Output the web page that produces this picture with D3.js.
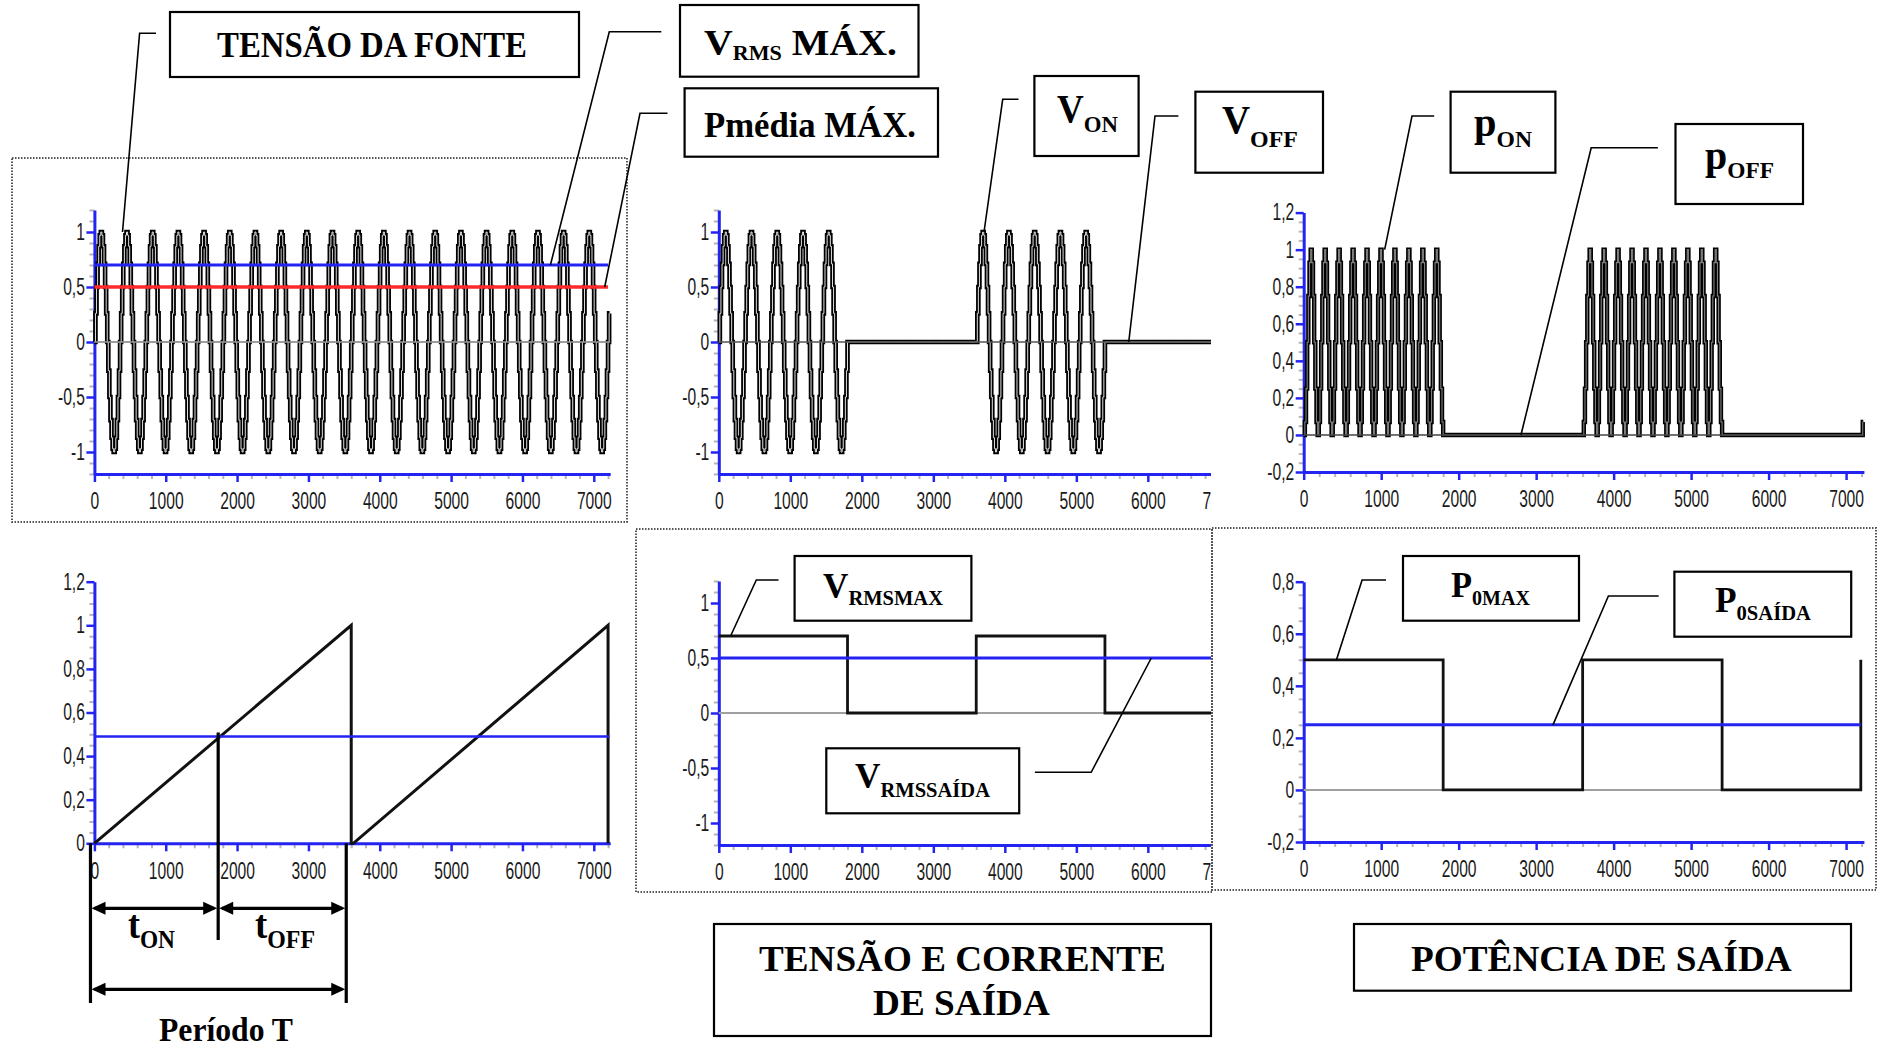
<!DOCTYPE html>
<html>
<head>
<meta charset="utf-8">
<script src="https://cdn.jsdelivr.net/npm/d3@7"></script>
<style>
  body { margin: 0; background: #fff; }
  svg { display: block; }
  .serif { font-family: "Liberation Serif", "Times New Roman", serif; font-weight: bold; white-space: pre; }
  .tick text { font-family: "Liberation Sans", Arial, sans-serif; fill: #1a1a1a; }
</style>
</head>
<body>
<div id="chart"></div>
<script>
// size of the page
const width = 1878;
const height = 1048;

// ---- data ----

// x axis (samples) shared by all six plots
const xTicks = [0, 1000, 2000, 3000, 4000, 5000, 6000, 7000];
const xEnd = 7230;
const sampleStep = 15;   // width of one held sample
const lastSample = 7215;

// one period (360 samples) of the stepped source voltage, 24 held levels
const sourceCycle = [0, 0.26, 0.5, 0.71, 0.87, 0.97, 1, 0.97, 0.87, 0.71, 0.5, 0.26,
                     0, -0.26, -0.5, -0.71, -0.87, -0.97, -1, -0.97, -0.87, -0.71, -0.5, -0.26];
// one period (180 samples) of the stepped instantaneous power
const powerCycle = [0, 0.07, 0.25, 0.5, 0.75, 0.93, 1, 0.93, 0.75, 0.5, 0.25, 0.07];

// switch conduction intervals
const onStart = [0, 3600, 7200];
const onEnd = [1800, 5400, 7230];

// sawtooth (control ramp)
const rampX = [0, 3600, 3600, 3630, 7200, 7200];
const rampY = [0, 1, 0, 0, 1, 0];
const dutyLevel = 0.49;

// rms value of the output (square wave)
const rmsX = [0, 1800, 1800, 3600, 3600, 5400, 5400, 7230];
const rmsY = [0.7, 0.7, 0, 0, 0.7, 0.7, 0, 0];

// mean output power (square wave)
const powX = [0, 1800, 1800, 3600, 3600, 5400, 5400, 7190, 7190];
const powY = [0.5, 0.5, 0, 0, 0.5, 0.5, 0, 0, 0.5];

// horizontal reference levels
const vRmsMax = 0.7;
const pMeanMax = 0.5;
const vRmsOut = 0.5;
const pOut = 0.25;

// y tick labels
const yTicksV = [-1, -0.5, 0, 0.5, 1];
const yTicksP = [-0.2, 0, 0.2, 0.4, 0.6, 0.8, 1, 1.2];
const yTicksRamp = [0, 0.2, 0.4, 0.6, 0.8, 1, 1.2];
const yTicksPo = [-0.2, 0, 0.2, 0.4, 0.6, 0.8];

// ---- page ----
const blue = "#2323f2";

const svg = d3.select("#chart")
  .append("svg")
  .attr("width", width)
  .attr("height", height)
  .attr("viewBox", [0, 0, width, height]);

svg.append("defs").append("clipPath").attr("id", "clipMid")
  .append("rect").attr("x", 0).attr("y", 0).attr("width", 1211).attr("height", height);

// dotted frames round three of the plots
const frames = [[12, 158, 627, 522], [636, 529, 1212, 892], [1212, 528, 1876, 890]];
svg.selectAll(".frame")
  .data(frames)
  .enter()
  .append("rect")
    .attr("class", "frame")
    .attr("x", d => d[0]).attr("y", d => d[1])
    .attr("width", d => d[2] - d[0]).attr("height", d => d[3] - d[1])
    .attr("fill", "none").attr("stroke", "#555")
    .attr("stroke-width", 2).attr("stroke-dasharray", "1.5,1.5");

// scales
const xLeft = d3.scaleLinear().domain([0, xEnd]).range([94.4, 610.2]);
const xMid = d3.scaleLinear().domain([0, xEnd]).range([718.8, 1235.8]);
const xRight = d3.scaleLinear().domain([0, xEnd]).range([1303.7, 1863.9]);

const ySrc = d3.scaleLinear().domain([-1.2, 1.2]).range([474, 210]);
const yOut = d3.scaleLinear().domain([-1.2, 1.2]).range([474, 210]);
const yPow = d3.scaleLinear().domain([-0.2, 1.2]).range([472, 212.6]);
const yRamp = d3.scaleLinear().domain([0, 1.2]).range([843.3, 581.7]);
const yRms = d3.scaleLinear().domain([-1.2, 1.2]).range([845, 581]);
const yPo = d3.scaleLinear().domain([-0.2, 0.8]).range([842, 581.7]);

const fmt = v => String(+v.toFixed(1)).replace(".", ",");

// axes: blue lines, blue major ticks, grey minor ticks
function axes(g, x, y, yTicks, yMinorStep) {
  const yDom = y.domain();
  const xMinor = d3.range(0, xEnd, 200).filter(v => v % 1000 !== 0);
  const yMinor = d3.range(Math.round(yDom[0] / yMinorStep), Math.round(yDom[1] / yMinorStep) + 1)
    .map(k => +(k * yMinorStep).toFixed(3))
    .filter(v => !yTicks.some(t => Math.abs(t - v) < 1e-6));

  g.append("g")
    .attr("transform", `translate(0,${y.range()[0]})`)
    .call(d3.axisBottom(x).tickValues(xMinor).tickSize(5).tickSizeOuter(0).tickFormat(""))
    .call(a => a.select(".domain").remove())
    .call(a => a.selectAll("line").attr("stroke", "#b5b5b5").attr("stroke-width", 2));

  g.append("g")
    .attr("transform", `translate(${x.range()[0]},0)`)
    .call(d3.axisLeft(y).tickValues(yMinor).tickSize(5).tickSizeOuter(0).tickFormat(""))
    .call(a => a.select(".domain").remove())
    .call(a => a.selectAll("line").attr("stroke", "#b5b5b5").attr("stroke-width", 2));

  g.append("g")
    .attr("transform", `translate(0,${y.range()[0]})`)
    .call(d3.axisBottom(x).tickValues(xTicks).tickSize(8).tickSizeOuter(0).tickPadding(11)
      .tickFormat(d3.format("d")))
    .call(a => a.select(".domain").attr("stroke", blue).attr("stroke-width", 3))
    .call(a => a.selectAll("line").attr("stroke", blue).attr("stroke-width", 2.5))
    .call(a => a.selectAll("text").attr("font-size", 23).attr("transform", "scale(0.68,1)"));

  g.append("g")
    .attr("transform", `translate(${x.range()[0]},0)`)
    .call(d3.axisLeft(y).tickValues(yTicks).tickSize(8).tickSizeOuter(0).tickPadding(6).tickFormat(fmt))
    .call(a => a.select(".domain").attr("stroke", blue).attr("stroke-width", 3))
    .call(a => a.selectAll("line").attr("stroke", blue).attr("stroke-width", 2.5))
    .call(a => a.selectAll("text").attr("font-size", 23).attr("transform", "scale(0.68,1)"));
}

function hline(g, x, y, level, color, w, x1) {
  g.append("line")
    .attr("x1", x(0)).attr("x2", x(x1 === undefined ? xEnd : x1))
    .attr("y1", y(level)).attr("y2", y(level))
    .attr("stroke", color).attr("stroke-width", w);
}

// stepped waveform drawn with a hollow double stroke
function wave(g, x, y, pts, inner, outerW, innerW) {
  const line = d3.line().x(d => x(d.x)).y(d => y(d.v)).curve(d3.curveStepAfter);
  g.append("path").datum(pts).attr("d", line)
    .attr("fill", "none").attr("stroke", "#000").attr("stroke-width", outerW);
  g.append("path").datum(pts).attr("d", line)
    .attr("fill", "none").attr("stroke", inner).attr("stroke-width", innerW);
}

function plain(g, x, y, xs, ys, w) {
  const pts = xs.map((v, i) => [x(v), y(ys[i])]);
  g.append("path").attr("d", d3.line()(pts))
    .attr("fill", "none").attr("stroke", "#111").attr("stroke-width", w);
}

const isOn = t => onStart.some((s, j) => t >= s && t < onEnd[j]);
const sampleX = d3.range(0, lastSample + 1, sampleStep);

function withEnd(pts) {
  pts.push({x: lastSample + 7, v: pts[pts.length - 1].v});
  return pts;
}
const srcPts = withEnd(sampleX.map((t, i) => ({x: t, v: sourceCycle[i % sourceCycle.length]})));
const outPts = withEnd(sampleX.map((t, i) => ({x: t, v: isOn(t) ? sourceCycle[i % sourceCycle.length] : 0})));
const powPts = withEnd(sampleX.map((t, i) => ({x: t, v: isOn(t) ? powerCycle[i % powerCycle.length] : 0})));

// 1. source voltage
const g1 = svg.append("g");
axes(g1, xLeft, ySrc, yTicksV, 0.1);
wave(g1, xLeft, ySrc, srcPts, "#e0e0e0", 4.6, 1.0);
hline(g1, xLeft, ySrc, 0, "rgba(140,140,140,0.85)", 2);
hline(g1, xLeft, ySrc, vRmsMax, blue, 3, 7200);
hline(g1, xLeft, ySrc, pMeanMax, "#ff2a2a", 3.5, 7200);

// 2. output voltage / current
const g2 = svg.append("g").attr("clip-path", "url(#clipMid)");
axes(g2, xMid, yOut, yTicksV, 0.1);
wave(g2, xMid, yOut, outPts, "#e0e0e0", 4.6, 1.0);
hline(g2, xMid, yOut, 0, "#555", 1.6);

// 3. instantaneous power
const g3 = svg.append("g");
axes(g3, xRight, yPow, yTicksP, 0.05);
wave(g3, xRight, yPow, powPts, "#808080", 4.4, 1.1);
hline(g3, xRight, yPow, 0, "#444", 1.6);

// 4. control ramp
const g4 = svg.append("g");
axes(g4, xLeft, yRamp, yTicksRamp, 0.05);
plain(g4, xLeft, yRamp, rampX, rampY, 3);
hline(g4, xLeft, yRamp, dutyLevel, blue, 2.5, 7220);

// 5. rms output
const g5 = svg.append("g").attr("clip-path", "url(#clipMid)");
axes(g5, xMid, yRms, yTicksV, 0.1);
hline(g5, xMid, yRms, 0, "#a0a0a0", 2);
plain(g5, xMid, yRms, rmsX, rmsY, 2.8);
hline(g5, xMid, yRms, vRmsOut, blue, 3);

// 6. mean output power
const g6 = svg.append("g");
axes(g6, xRight, yPo, yTicksPo, 0.05);
hline(g6, xRight, yPo, 0, "#a0a0a0", 2, 7190);
plain(g6, xRight, yPo, powX, powY, 2.8);
hline(g6, xRight, yPo, pOut, blue, 3, 7190);

// ---- annotations ----
const ann = svg.append("g");

function leader(pts, x, y, tx, ty) {
  const all = pts.concat([[x(tx), y(ty)]]);
  ann.append("path").attr("d", d3.line()(all))
    .attr("fill", "none").attr("stroke", "#000").attr("stroke-width", 1.6);
}

leader([[156, 33.3], [139.6, 33.3]], xLeft, ySrc, 394, 1);
leader([[661.3, 31.7], [609.3, 31.7]], xLeft, ySrc, 6392, vRmsMax);
leader([[667.5, 113.3], [640, 113.3]], xLeft, ySrc, 7153, pMeanMax);
leader([[1018.5, 99.3], [1002.7, 99.3]], xMid, yOut, 3709, 1);
leader([[1178.4, 116], [1155, 116]], xMid, yOut, 5733, 0);
leader([[1434.2, 116], [1412, 116]], xRight, yPow, 1045, 1);
leader([[1657.9, 147.7], [1591.2, 147.7]], xRight, yPow, 2804, 0);
leader([[778.5, 580], [756.3, 580]], xMid, yRms, 165, rmsY[0]);
leader([[1034.9, 772.3], [1091.2, 772.3]], xMid, yRms, 6048, vRmsOut);
leader([[1386, 580], [1362.1, 580]], xRight, yPo, 423, powY[0]);
leader([[1658.7, 596], [1608.4, 596]], xRight, yPo, 3217, pOut);

const boxes = [
  [170, 12, 579, 77], [680, 5, 918.5, 76.7], [684.6, 88.3, 938, 156.7],
  [1034.4, 76, 1138.6, 156], [1195.4, 91.7, 1323, 172.7],
  [1450.6, 91.7, 1555.4, 172.7], [1675.5, 124, 1803, 204],
  [794.6, 556, 971.4, 620.7], [826.3, 748.3, 1019.2, 813.3],
  [1403, 556, 1579, 620.7], [1674.4, 571.7, 1851.2, 636.7],
  [714, 924, 1211, 1036], [1354, 924, 1851, 990.7]
];
ann.selectAll(".box")
  .data(boxes)
  .enter()
  .append("rect")
    .attr("class", "box")
    .attr("x", d => d[0]).attr("y", d => d[1])
    .attr("width", d => d[2] - d[0]).attr("height", d => d[3] - d[1])
    .attr("fill", "#fff").attr("stroke", "#000").attr("stroke-width", 2.2);

// text with optional subscript, squeezed to the width it has in the picture
function label(x0, x1, y, parts) {
  const t = ann.append("text").attr("class", "serif").attr("x", x0).attr("y", y).attr("fill", "#000");
  let shift = 0;
  parts.forEach(([s, size, off]) => {
    t.append("tspan").attr("font-size", size).attr("dy", off - shift).text(s);
    shift = off;
  });
  const w = t.node().getComputedTextLength();
  t.attr("transform", `translate(${x0},0) scale(${(x1 - x0) / w},1) translate(${-x0},0)`);
}

label(217, 527, 56.7, [["TENSÃO DA FONTE", 36, 0]]);
label(704, 897, 55, [["V", 36, 0], ["RMS", 20, 5], [" MÁX.", 36, 0]]);
label(704, 916, 136.7, [["Pmédia MÁX.", 35, 0]]);
label(1057, 1118, 121.7, [["V", 39, 0], ["ON", 24, 10]]);
label(1222, 1298, 133.3, [["V", 39, 0], ["OFF", 24, 13.4]]);
label(1474, 1532, 136, [["p", 41, 0], ["ON", 24, 10.7]]);
label(1705, 1774, 168.7, [["p", 41, 0], ["OFF", 24, 9.6]]);
label(823, 943, 598.3, [["V", 36, 0], ["RMSMAX", 21, 6.7]]);
label(855, 990, 788.5, [["V", 36, 0], ["RMSSAÍDA", 21, 8.2]]);
label(1451, 1530, 596.7, [["P", 36, 0], ["0MAX", 21, 8.3]]);
label(1715, 1811, 611.7, [["P", 36, 0], ["0SAÍDA", 21, 8.3]]);
label(128, 175, 938.3, [["t", 40, 0], ["ON", 26, 10]]);
label(255, 315, 938.3, [["t", 40, 0], ["OFF", 26, 10]]);
label(159, 293, 1041, [["Período T", 33, 0]]);
label(759, 1166, 970.7, [["TENSÃO E CORRENTE", 35, 0]]);
label(873, 1050, 1015, [["DE SAÍDA", 35, 0]]);
label(1411, 1792, 970.7, [["POTÊNCIA DE SAÍDA", 35, 0]]);

// t_on / t_off / period dimension lines under the ramp
const dimX = [-55, 1735, 3530];
const dim = ann.append("g").attr("stroke", "#000").attr("stroke-width", 3.2);
dim.append("line").attr("x1", xLeft(dimX[1])).attr("x2", xLeft(dimX[1]))
  .attr("y1", yRamp(dutyLevel) - 4).attr("y2", 940);
[dimX[0], dimX[2]].forEach(v => {
  dim.append("line").attr("x1", xLeft(v)).attr("x2", xLeft(v))
    .attr("y1", yRamp(0)).attr("y2", 1003);
});

function arrow(xa, xb, y) {
  const a = xLeft(xa), b = xLeft(xb), L = 14, H = 6.5;
  ann.append("line").attr("x1", a + 4).attr("x2", b - 4).attr("y1", y).attr("y2", y)
    .attr("stroke", "#000").attr("stroke-width", 3.2);
  ann.append("path").attr("d", `M${a + 1},${y}L${a + 1 + L},${y - H}L${a + 1 + L},${y + H}Z`).attr("fill", "#000");
  ann.append("path").attr("d", `M${b - 1},${y}L${b - 1 - L},${y - H}L${b - 1 - L},${y + H}Z`).attr("fill", "#000");
}
arrow(dimX[0], dimX[1], 908.3);
arrow(dimX[1], dimX[2], 908.3);
arrow(dimX[0], dimX[2], 989.3);
</script>
</body>
</html>
